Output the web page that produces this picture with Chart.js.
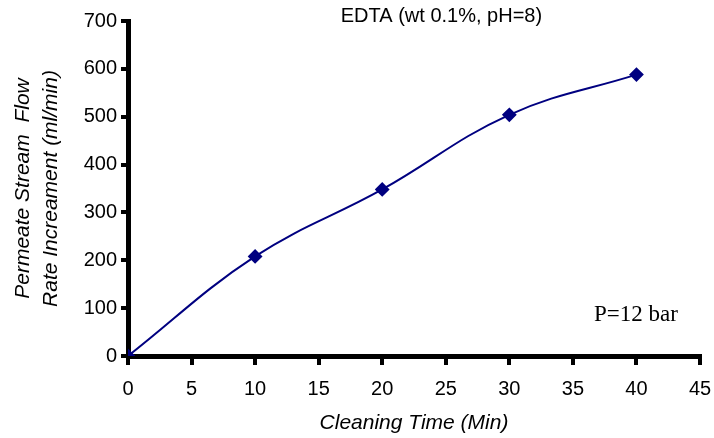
<!DOCTYPE html>
<html>
<head>
<meta charset="utf-8">
<script src="https://cdn.jsdelivr.net/npm/chart.js@4"></script>
<style>
  html, body { margin: 0; padding: 0; background: #fff; }
  #wrap { width: 714px; height: 438px; }
</style>
</head>
<body>
<div id="wrap"><canvas id="chartFlow"></canvas></div>
<script>
// data
var cleaningTime = [0, 10, 20, 30, 40];
var flowIncrease = [0, 208, 348, 504, 588];
var xTicks = [0, 5, 10, 15, 20, 25, 30, 35, 40, 45];
var yTicks = [0, 100, 200, 300, 400, 500, 600, 700];
var chartTitle = "EDTA (wt 0.1%, pH=8)";
var noteText = "P=12 bar";

var points = cleaningTime.map(function (t, i) {
  return { x: t, y: flowIncrease[i] };
});

// text inside the plot area
var labelsPlugin = {
  id: 'labels',
  afterDraw: function (chart) {
    var ctx = chart.ctx, area = chart.chartArea;
    ctx.save();
    ctx.fillStyle = "#000";
    ctx.textBaseline = "middle";
    ctx.textAlign = "center";
    ctx.font = "20px 'Liberation Sans', Arial, sans-serif";
    ctx.fillText(chartTitle, area.left + (area.right - area.left) * 0.548, area.top - 5);
    ctx.font = "23px 'Liberation Serif', 'Times New Roman', serif";
    ctx.fillText(noteText, area.right - 64, area.bottom - 41);
    ctx.restore();
  }
};

var tickFont = { family: "'Liberation Sans', Arial, sans-serif", size: 20 };
var titleFont = { family: "'Liberation Sans', Arial, sans-serif", size: 21, style: 'italic' };

var chartFlow = new Chart(document.getElementById("chartFlow"), {
  type: 'line',
  data: {
    datasets: [{
      data: points,
      borderColor: "#000080",
      backgroundColor: "#000080",
      borderWidth: 2,
      pointStyle: 'rectRot',
      pointRadius: 6,
      pointHoverRadius: 6,
      tension: 0.4,
      fill: false
    }]
  },
  plugins: [labelsPlugin],
  options: {
    responsive: true,
    maintainAspectRatio: false,
    animation: false,
    layout: { padding: { top: 21, right: 0, left: 0, bottom: 0 } },
    plugins: {
      legend: { display: false },
      tooltip: { enabled: false }
    },
    scales: {
      x: {
        type: 'linear',
        min: 0,
        max: 45,
        afterBuildTicks: function (scale) {
          scale.ticks = xTicks.map(function (v) { return { value: v }; });
        },
        afterFit: function (scale) {
          scale.height = 82;
          scale.paddingRight = 14;
        },
        border: { display: true, color: "#000", width: 5 },
        grid: { drawOnChartArea: false, color: "#000", lineWidth: 4, tickLength: 9, tickWidth: 4 },
        ticks: { color: "#000", font: tickFont, padding: 12, maxRotation: 0 },
        title: {
          display: true,
          text: "Cleaning Time (Min)",
          color: "#000",
          font: titleFont,
          padding: { top: 0, bottom: 2 }
        }
      },
      y: {
        type: 'linear',
        min: 0,
        max: 700,
        afterBuildTicks: function (scale) {
          scale.ticks = yTicks.map(function (v) { return { value: v }; });
        },
        afterFit: function (scale) { scale.width = 128; },
        border: { display: true, color: "#000", width: 5 },
        grid: { drawOnChartArea: false, color: "#000", lineWidth: 4, tickLength: 7, tickWidth: 4 },
        ticks: { color: "#000", font: tickFont, padding: 4 },
        title: {
          display: true,
          text: ["Permeate Stream  Flow", "Rate Increament (ml/min)"],
          color: "#000",
          font: Object.assign({ lineHeight: 1.3 }, titleFont),
          padding: { top: 10, bottom: 2 }
        }
      }
    }
  }
});
</script>
</body>
</html>
